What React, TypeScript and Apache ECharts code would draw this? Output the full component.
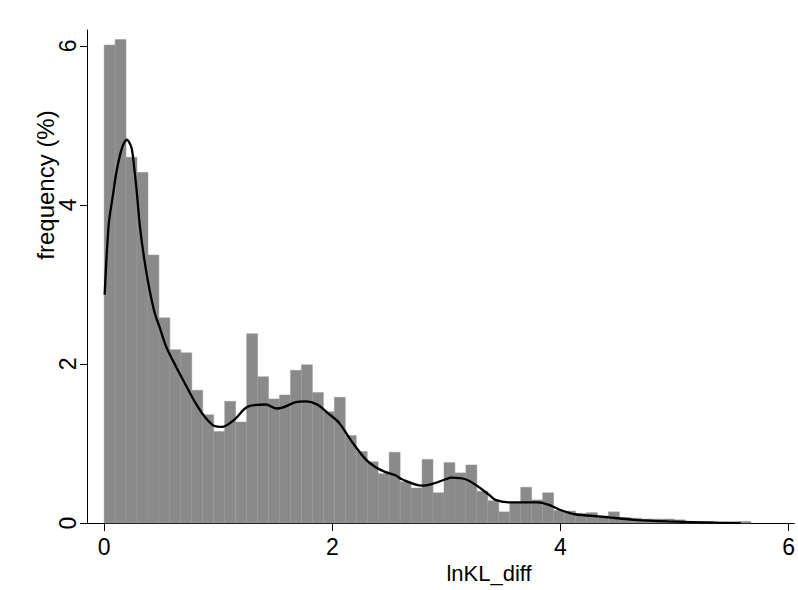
import { useEffect, useRef } from 'react';
import * as echarts from 'echarts';

const binStart = 0;
const binWidth = 0.0961;
const binHeights = [
  6.01, 6.08, 4.6, 4.41, 3.37, 2.58, 2.18, 2.14, 1.67, 1.36,
  1.15, 1.53, 1.27, 2.38, 1.84, 1.56, 1.61, 1.92, 1.99, 1.64,
  1.40, 1.58, 1.10, 0.90, 0.77, 0.62, 0.89, 0.52, 0.44, 0.80,
  0.38, 0.76, 0.63, 0.73, 0.40, 0.28, 0.14, 0.26, 0.45, 0.29,
  0.38, 0.16, 0.15, 0.12, 0.13, 0.09, 0.14, 0.07, 0.06, 0.05,
  0.05, 0.05, 0.04, 0.02, 0.02, 0.02, 0.01, 0.005, 0.02,
];

const densityX = [
  0.005, 0.04, 0.077, 0.109, 0.153, 0.199, 0.24, 0.263, 0.284, 0.313,
  0.356, 0.4, 0.444, 0.487, 0.546, 0.633, 0.706, 0.793, 0.88, 0.968,
  1.038, 1.142, 1.256, 1.419, 1.507, 1.562, 1.681, 1.769, 1.867, 1.972,
  2.059, 2.173, 2.293, 2.38, 2.467, 2.555, 2.61, 2.784, 2.872, 2.994,
  3.046, 3.168, 3.256, 3.369, 3.431, 3.544, 3.658, 3.806, 3.893, 4.007,
  4.126, 4.356, 4.651, 4.941, 5.349, 5.58,
];
const densityY = [
  2.87, 3.75, 4.12, 4.42, 4.7, 4.82, 4.72, 4.48, 4.2, 3.74,
  3.28, 2.92, 2.64, 2.46, 2.21, 1.96, 1.76, 1.53, 1.34, 1.22,
  1.21, 1.3, 1.46, 1.49, 1.44, 1.45, 1.52, 1.53, 1.49, 1.37,
  1.26, 1.02, 0.8, 0.7, 0.64, 0.6, 0.55, 0.47, 0.49, 0.55,
  0.57, 0.55, 0.48, 0.36, 0.29, 0.26, 0.26, 0.26, 0.23, 0.16,
  0.11, 0.08, 0.04, 0.02, 0.005, 0.0,
];

const xTicks = [0, 2, 4, 6];
const yTicks = [0, 2, 4, 6];
const xTitle = 'lnKL_diff';
const yTitle = 'frequency (%)';

const FONT = '"Liberation Sans", Arial, Helvetica, sans-serif';

export default function App() {
  const ref = useRef<HTMLDivElement>(null);
  useEffect(() => {
    if (!ref.current) return;
    const chart = echarts.init(ref.current, null, { renderer: 'svg' });
    const barData = binHeights.map((h, i) => [
      binStart + i * binWidth,
      binStart + (i + 1) * binWidth,
      h,
    ]);
    const lineData = densityX.map((x, i) => [x, densityY[i]]);
    chart.setOption({
      animation: false,
      backgroundColor: '#ffffff',
      grid: { left: 87, right: 1, top: 30, bottom: 67, containLabel: false },
      xAxis: {
        type: 'value',
        min: -0.15,
        max: 6.05,
        axisLine: { show: true, onZero: false, lineStyle: { color: '#000', width: 1 } },
        axisTick: { show: true, length: 8, customValues: xTicks, lineStyle: { color: '#000', width: 1 } },
        axisLabel: {
          customValues: xTicks,
          fontSize: 23,
          color: '#000',
          fontFamily: FONT,
          margin: 12,
        },
        splitLine: { show: false },
      },
      yAxis: {
        type: 'value',
        min: 0,
        max: 6.2,
        axisLine: { show: true, onZero: false, lineStyle: { color: '#000', width: 1 } },
        axisTick: { show: true, length: 7, customValues: yTicks, lineStyle: { color: '#000', width: 1 } },
        axisLabel: {
          customValues: yTicks,
          rotate: 90,
          fontSize: 23,
          color: '#000',
          fontFamily: FONT,
          margin: 8,
        },
        splitLine: { show: false },
      },
      graphic: [
        {
          type: 'text',
          x: 489,
          y: 573,
          style: {
            text: xTitle,
            fontSize: 22,
            fontFamily: FONT,
            fill: '#000',
            align: 'center',
            verticalAlign: 'middle',
          },
        },
        {
          type: 'text',
          x: 45,
          y: 185,
          rotation: Math.PI / 2,
          style: {
            text: yTitle,
            fontSize: 24,
            fontFamily: FONT,
            fill: '#000',
            align: 'center',
            verticalAlign: 'middle',
          },
        },
      ],
      series: [
        {
          type: 'custom',
          data: barData,
          encode: { x: [0, 1], y: 2 },
          renderItem: (params: any, api: any) => {
            const p0 = api.coord([api.value(0), api.value(2)]);
            const p1 = api.coord([api.value(1), 0]);
            return {
              type: 'rect',
              shape: { x: p0[0], y: p0[1], width: p1[0] - p0[0], height: p1[1] - p0[1] },
              style: { fill: '#8a8a8a', stroke: '#999999', lineWidth: 0.5 },
            };
          },
          z: 1,
        },
        {
          type: 'line',
          data: lineData,
          smooth: 0.3,
          symbol: 'none',
          lineStyle: { color: '#000', width: 2.3 },
          z: 2,
        },
      ],
    });
    return () => chart.dispose();
  }, []);
  return (
    <div
      ref={ref}
      style={{ position: 'absolute', left: 0, top: 0, width: 798, height: 590 }}
    />
  );
}
